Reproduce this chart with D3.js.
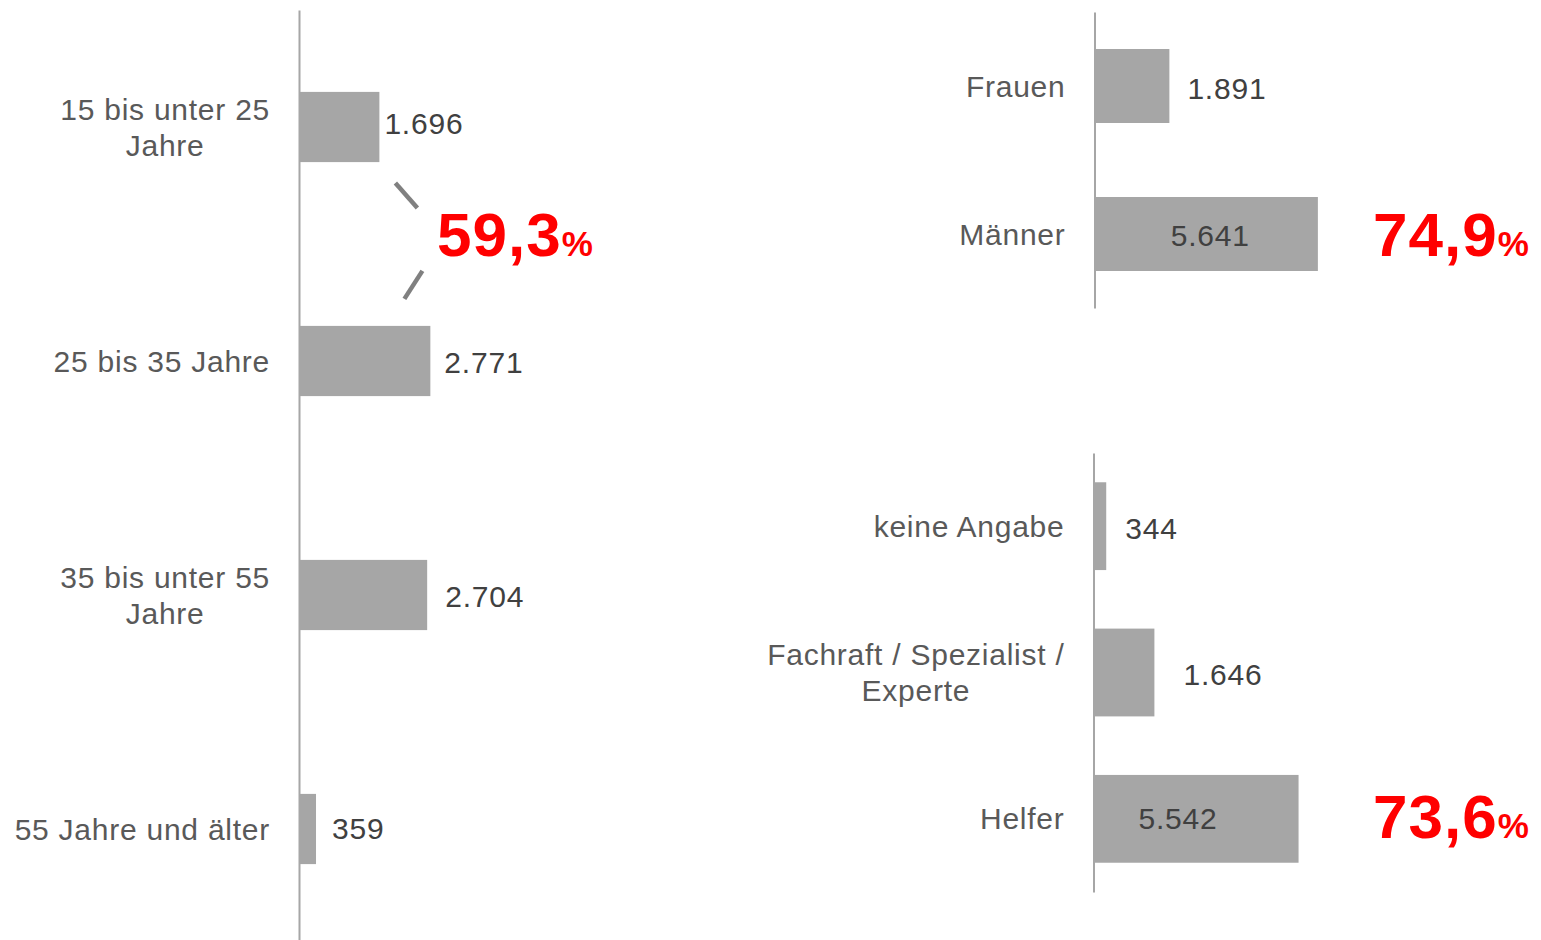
<!DOCTYPE html>
<html>
<head>
<meta charset="utf-8">
<script src="https://cdnjs.cloudflare.com/ajax/libs/d3/7.8.5/d3.min.js"></script>
<style>
    body { margin: 0; background: #fff; }
    svg text { font-family: "Liberation Sans", Arial, sans-serif; }
</style>
</head>
<body>
<div id="chart"></div>
<script>
// data
const ageCategories = ["15 bis unter 25\nJahre", "25 bis 35 Jahre", "35 bis unter 55\nJahre", "55 Jahre und älter"];
const ageValues = [1696, 2771, 2704, 359];

const genderCategories = ["Frauen", "Männer"];
const genderValues = [1891, 5641];

const qualCategories = ["keine Angabe", "Fachraft / Spezialist /\nExperte", "Helfer"];
const qualValues = [344, 1646, 5542];

const shareLabels = ["59,3", "74,9", "73,6"];

// german number format (1.696)
const fmt = d3.formatLocale({decimal: ",", thousands: ".", grouping: [3], currency: ["", " €"]}).format(",");

const width = 1541, height = 940;
const barColor = "#a6a6a6";

const svg = d3.select("#chart").append("svg")
    .attr("width", width)
    .attr("height", height);

svg.append("rect").attr("width", width).attr("height", height).attr("fill", "#fff");

// layout of the three panels
const panels = [
    {cats: ageCategories, vals: ageValues, axisX: 299, y0: 10, y1: 946, padIn: 0.7, padOut: 0.35, pxPerUnit: 0.0474,
        labelDx: [5, 14, 18, 16], labelDy: [7, 12, 12, 10], inside: -1,
        share: shareLabels[0], shareX: 437, shareY: 256},
    {cats: genderCategories, vals: genderValues, axisX: 1094.5, y0: 12, y1: 308, padIn: 0.5, padOut: 0.25, pxPerUnit: 0.0396,
        labelDx: [18, 4], labelDy: [13, 12], inside: 1,
        share: shareLabels[1], shareX: 1373, shareY: 256},
    {cats: qualCategories, vals: qualValues, axisX: 1093.5, y0: 453, y1: 892, padIn: 0.4, padOut: 0.2, pxPerUnit: 0.037,
        labelDx: [19, 29, -18], labelDy: [13, 12.5, 10], inside: 2,
        share: shareLabels[2], shareX: 1373, shareY: 838}
];

panels.forEach(drawPanel);

function drawPanel(p, pi) {
    let g = svg.append("g").attr("class", "panel panel-" + pi);

    let y = d3.scaleBand()
        .domain(p.cats)
        .range([p.y0, p.y1])
        .paddingInner(p.padIn)
        .paddingOuter(p.padOut);

    let x = d3.scaleLinear()
        .domain([0, 10000])
        .range([p.axisX, p.axisX + 10000 * p.pxPerUnit]);

    let data = p.cats.map((c, i) => ({cat: c, val: p.vals[i], i: i}));

    // bars
    g.selectAll("rect.bar")
        .data(data)
        .enter()
        .append("rect")
        .attr("class", "bar")
        .attr("x", x(0))
        .attr("y", d => y(d.cat))
        .attr("width", d => x(d.val) - x(0))
        .attr("height", y.bandwidth())
        .attr("fill", barColor);

    // axis line
    let axis = d3.axisLeft(y).tickSize(0).tickSizeOuter(0).tickFormat("");
    let axisG = g.append("g")
        .attr("class", "y-axis")
        .attr("transform", `translate(${p.axisX},0)`)
        .call(axis);
    axisG.select(".domain").attr("stroke", barColor).attr("stroke-width", 2);

    // category labels (multi line, lines centred, block right aligned)
    let labelRight = p.axisX - 29;
    data.forEach(d => {
        let lines = d.cat.split("\n");
        let cy = y(d.cat) + y.bandwidth() / 2;
        let t = g.append("text")
            .attr("fill", "#595959")
            .attr("font-size", 30)
            .attr("letter-spacing", 0.75)
            .attr("text-anchor", "middle");
        lines.forEach((line, li) => {
            t.append("tspan")
                .attr("x", 0)
                .attr("y", cy + 10.5 + (li - (lines.length - 1) / 2) * 36)
                .text(line);
        });
        let bb = t.node().getBBox();
        t.attr("transform", `translate(${labelRight - bb.x - bb.width},0)`);
    });

    // value labels
    g.selectAll("text.value")
        .data(data)
        .enter()
        .append("text")
        .attr("class", "value")
        .attr("fill", "#404040")
        .attr("font-size", 30)
        .attr("letter-spacing", 0.8)
        .attr("text-anchor", d => d.i === p.inside ? "middle" : "start")
        .attr("x", d => d.i === p.inside
            ? (x(0) + x(d.val)) / 2 + p.labelDx[d.i]
            : x(d.val) + p.labelDx[d.i])
        .attr("y", d => y(d.cat) + y.bandwidth() / 2 + p.labelDy[d.i])
        .text(d => fmt(d.val));

    // share annotation
    let share = g.append("text")
        .attr("x", p.shareX)
        .attr("y", p.shareY)
        .attr("fill", "#ff0000")
        .attr("font-weight", "bold")
        .attr("font-size", 62);
    share.append("tspan").attr("letter-spacing", 1).text(p.share);
    share.append("tspan").attr("font-size", 35).text("%");

    // connector dashes between first two age bars
    if (pi === 0) {
        let xEnd = x(p.vals[0]);
        let b1 = y(p.cats[0]) + y.bandwidth();
        let t2 = y(p.cats[1]);
        let dashes = [
            [[xEnd + 16, b1 + 21], [xEnd + 38, b1 + 46]],
            [[xEnd + 43, t2 - 55], [xEnd + 25, t2 - 27]]
        ];
        g.selectAll("line.dash")
            .data(dashes)
            .enter()
            .append("line")
            .attr("class", "dash")
            .attr("x1", d => d[0][0]).attr("y1", d => d[0][1])
            .attr("x2", d => d[1][0]).attr("y2", d => d[1][1])
            .attr("stroke", "#808080")
            .attr("stroke-width", 4.5);
    }
}
</script>
</body>
</html>
